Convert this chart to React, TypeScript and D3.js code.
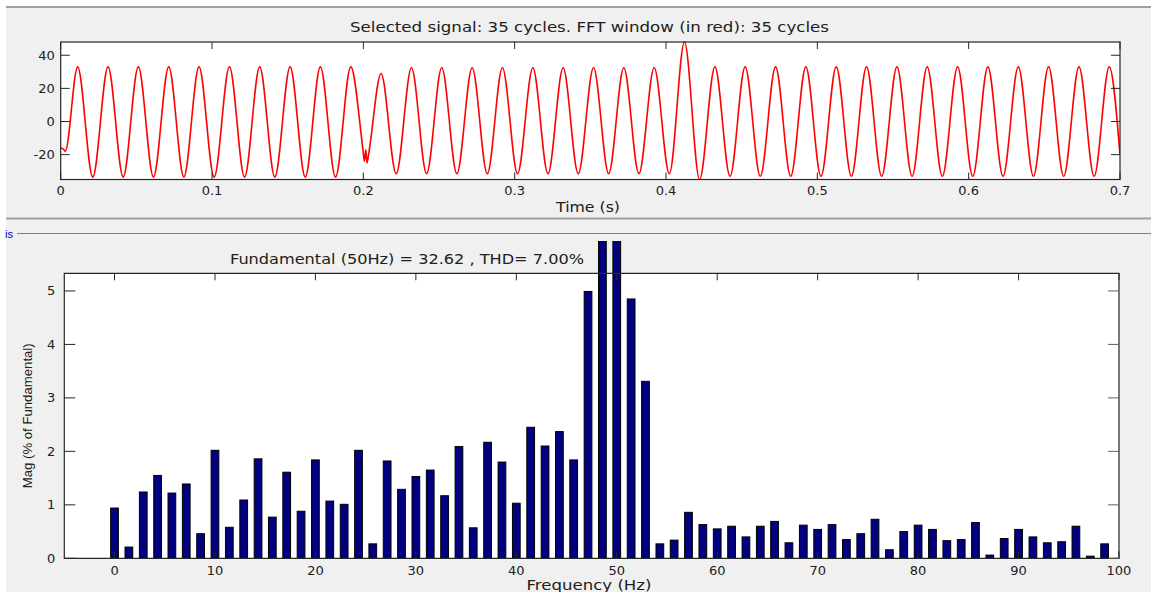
import React from 'react';
import * as d3 from 'd3';

// tick labels
const timeTicks = [0, 0.1, 0.2, 0.3, 0.4, 0.5, 0.6, 0.7];
const signalTicks = [-20, 0, 20, 40];
const freqTicks = [0, 10, 20, 30, 40, 50, 60, 70, 80, 90, 100];
const magTicks = [0, 1, 2, 3, 4, 5];

// waveform turning points
const startTimes = [0, 0.0017, 0.003];
const startValues = [-16, -16.5, -18];
const peakTimes = [
  0.0112, 0.0313, 0.0513, 0.0714, 0.0914, 0.1115, 0.1315, 0.1516, 0.1716, 0.1917,
  0.2117, 0.2318, 0.2518, 0.2719, 0.2919, 0.312, 0.332, 0.3521, 0.3721, 0.3922,
  0.4122, 0.4323, 0.4523, 0.4724, 0.4924, 0.5125, 0.5325, 0.5526, 0.5726, 0.5927,
  0.6127, 0.6328, 0.6528, 0.6729, 0.6929,
];
const peakValues = [
  33, 33, 33, 33, 33, 33, 33, 33, 33, 33,
  29, 32.5, 32.5, 32.5, 32.5, 32.5, 32.5, 32.5, 32.5, 32.5,
  48, 33, 33, 33, 33, 33, 33, 33, 33, 33,
  33, 33, 33, 33, 33,
];
const troughTimes = [
  0.0212, 0.0413, 0.0613, 0.0814, 0.1014, 0.1215, 0.1415, 0.1616, 0.1816,
  0.2217, 0.2418, 0.2618, 0.2819, 0.3019, 0.322, 0.342, 0.3621, 0.3821, 0.4022,
  0.4222, 0.4423, 0.4623, 0.4824, 0.5024, 0.5225, 0.5425, 0.5626, 0.5826, 0.6027,
  0.6227, 0.6428, 0.6628, 0.6829,
];
const troughValues = [
  -33.5, -33.5, -33.5, -33.5, -33.5, -33.5, -33.5, -33.5, -33.5,
  -31.5, -31.5, -31.5, -31.5, -31.5, -31.5, -31.5, -31.5, -31.5, -31.5,
  -35, -33, -33, -33, -33, -33, -33, -33, -33, -33,
  -33, -33, -33, -33,
];
// the disturbed trough near 0.2 s
const glitchTimes = [0.1996, 0.2007, 0.2016, 0.2024, 0.2036];
const glitchValues = [-16, -24, -17, -25, -19];
const endTimes = [0.7];
const endValues = [-20];

// FFT bins (Hz) and magnitudes (% of fundamental)
const freqs = [
  0, 1.43, 2.86, 4.29, 5.71, 7.14, 8.57, 10,
  11.43, 12.86, 14.29, 15.71, 17.14, 18.57, 20,
  21.43, 22.86, 24.29, 25.71, 27.14, 28.57, 30,
  31.43, 32.86, 34.29, 35.71, 37.14, 38.57, 40,
  41.43, 42.86, 44.29, 45.71, 47.14, 48.57, 50,
  51.43, 52.86, 54.29, 55.71, 57.14, 58.57, 60,
  61.43, 62.86, 64.29, 65.71, 67.14, 68.57, 70,
  71.43, 72.86, 74.29, 75.71, 77.14, 78.57, 80,
  81.43, 82.86, 84.29, 85.71, 87.14, 88.57, 90,
  91.43, 92.86, 94.29, 95.71, 97.14, 98.57,
];
const mags = [
  0.94, 0.21, 1.24, 1.55, 1.22, 1.39, 0.46, 2.02,
  0.58, 1.09, 1.86, 0.77, 1.61, 0.88, 1.84,
  1.07, 1.01, 2.02, 0.27, 1.82, 1.29, 1.53,
  1.65, 1.17, 2.09, 0.57, 2.17, 1.8, 1.03,
  2.45, 2.1, 2.37, 1.84, 4.99, 6.5, 100,
  4.85, 3.31, 0.27, 0.34, 0.86, 0.63, 0.55,
  0.6, 0.4, 0.6, 0.69, 0.29, 0.62, 0.54,
  0.63, 0.35, 0.46, 0.73, 0.16, 0.5, 0.62,
  0.54, 0.33, 0.35, 0.67, 0.06, 0.37, 0.54,
  0.4, 0.29, 0.31, 0.6, 0.04, 0.27,
];

const font = '"DejaVu Sans", "Liberation Sans", Arial, sans-serif';
const narrowFont = '"Liberation Sans", Arial, sans-serif';
const axisColor = '#262626';
const textColor = '#202020';

const App = () => {
  // top plot
  const top = { left: 60.7, right: 1120, top: 42, bottom: 179.5 };
  const x1 = d3.scaleLinear().domain([0, 0.7]).range([top.left, top.right]);
  const y1 = d3.scaleLinear().domain([-35, 48]).range([top.bottom, top.top]);

  const pts: [number, number][] = [];
  const add = (ts: number[], vs: number[]) => ts.forEach((t, i) => pts.push([t, vs[i]]));
  add(startTimes, startValues);
  add(peakTimes, peakValues);
  add(troughTimes, troughValues);
  add(glitchTimes, glitchValues);
  add(endTimes, endValues);
  pts.sort((a, b) => a[0] - b[0]);

  const line = d3
    .line<[number, number]>()
    .x((d) => x1(d[0]))
    .y((d) => y1(d[1]))
    .curve(d3.curveMonotoneX);

  // bottom plot
  const bot = { left: 64.3, right: 1119, top: 273.3, bottom: 558.3 };
  const x2 = d3.scaleLinear().domain([-5, 100]).range([bot.left, bot.right]);
  const y2 = d3.scaleLinear().domain([0, 5.33]).range([bot.bottom, bot.top]);
  const halfW = 0.385;

  return (
    <svg width={1151} height={592} style={{ position: 'absolute', left: 0, top: 0 }} fontFamily={font}>
      <defs>
        <clipPath id="sigClip">
          <rect x={top.left} y={top.top - 1} width={top.right - top.left} height={top.bottom - top.top + 1} />
        </clipPath>
        <clipPath id="barClip">
          <rect x={bot.left} y={241} width={bot.right - bot.left} height={bot.bottom - 241} />
        </clipPath>
      </defs>
      <rect width={1151} height={592} fill="#ffffff" />
      <rect x={6} y={7} width={1145} height={585} fill="#f0f0f0" />
      <line x1={6} x2={1151} y1={7} y2={7} stroke="#a0a0a0" strokeWidth={2} />
      <line x1={6} x2={1151} y1={218.5} y2={218.5} stroke="#a0a0a0" strokeWidth={2} />
      <line x1={17} x2={1151} y1={233.5} y2={233.5} stroke="#808080" strokeWidth={1} />
      <text x={5} y={237.5} fontSize={11} fontFamily={narrowFont} fill="#0000c8">is</text>

      {/* top: selected signal */}
      <text x={589.5} y={31.5} fontSize={14} textAnchor="middle" fill={textColor} textLength={479} lengthAdjust="spacingAndGlyphs">
        Selected signal: 35 cycles. FFT window (in red): 35 cycles
      </text>
      <rect x={top.left} y={top.top} width={top.right - top.left} height={top.bottom - top.top} fill="#ffffff" />
      <path d={line(pts) ?? ''} fill="none" stroke="#ff0000" strokeWidth={1.6} clipPath="url(#sigClip)" />
      <rect
        x={top.left}
        y={top.top}
        width={top.right - top.left}
        height={top.bottom - top.top}
        fill="none"
        stroke={axisColor}
        strokeWidth={1.2}
      />
      {timeTicks.map((t) => (
        <g key={'t' + t}>
          <line x1={x1(t)} x2={x1(t)} y1={top.bottom} y2={top.bottom - 7} stroke={axisColor} />
          <line x1={x1(t)} x2={x1(t)} y1={top.top} y2={top.top + 7} stroke={axisColor} />
          <text x={x1(t)} y={195} fontSize={13} textAnchor="middle" fill={textColor}>
            {t}
          </text>
        </g>
      ))}
      {signalTicks.map((v) => (
        <g key={'s' + v}>
          <line x1={top.left} x2={top.left + 9} y1={y1(v)} y2={y1(v)} stroke={axisColor} />
          <line x1={top.right} x2={top.right - 9} y1={y1(v)} y2={y1(v)} stroke={axisColor} />
          <text x={top.left - 6} y={y1(v) + 4.5} fontSize={13} textAnchor="end" fill={textColor}>
            {v}
          </text>
        </g>
      ))}
      <text x={588} y={212} fontSize={13.5} textAnchor="middle" fill={textColor} textLength={64} lengthAdjust="spacingAndGlyphs">
        Time (s)
      </text>

      {/* bottom: FFT spectrum */}
      <text x={407} y={264} fontSize={14} textAnchor="middle" fill={textColor} textLength={354} lengthAdjust="spacingAndGlyphs">
        Fundamental (50Hz) = 32.62 , THD= 7.00%
      </text>
      <rect x={bot.left} y={bot.top} width={bot.right - bot.left} height={bot.bottom - bot.top} fill="#ffffff" />
      <g clipPath="url(#barClip)">
        {freqs.map((f, i) => (
          <rect
            key={'b' + i}
            x={x2(f - halfW)}
            y={y2(mags[i])}
            width={x2(f + halfW) - x2(f - halfW)}
            height={y2(0) - y2(mags[i])}
            fill="#000080"
            stroke="#000000"
            strokeWidth={1}
          />
        ))}
      </g>
      <path
        d={`M${bot.left},${bot.top}H${bot.right}V${bot.bottom}H${bot.left}Z`}
        fill="none"
        stroke={axisColor}
        strokeWidth={1.2}
      />
      {freqTicks.map((f) => (
        <g key={'f' + f}>
          <line x1={x2(f)} x2={x2(f)} y1={bot.bottom} y2={bot.bottom - 7} stroke={axisColor} />
          <line x1={x2(f)} x2={x2(f)} y1={bot.top} y2={bot.top + 7} stroke={axisColor} />
          <text x={x2(f)} y={575} fontSize={13} textAnchor="middle" fill={textColor}>
            {f}
          </text>
        </g>
      ))}
      {magTicks.map((v) => (
        <g key={'m' + v}>
          <line x1={bot.left} x2={bot.left + 11} y1={y2(v)} y2={y2(v)} stroke={axisColor} />
          <line x1={bot.right} x2={bot.right - 11} y1={y2(v)} y2={y2(v)} stroke="#606060" />
          <text x={bot.left - 9} y={y2(v) + 4.5} fontSize={13} textAnchor="end" fill={textColor}>
            {v}
          </text>
        </g>
      ))}
      <text
        transform={`translate(32,${(bot.top + bot.bottom) / 2}) rotate(-90)`}
        fontSize={13.5}
        fontFamily={narrowFont}
        textAnchor="middle"
        fill={textColor}
        textLength={145}
        lengthAdjust="spacingAndGlyphs"
      >
        Mag (% of Fundamental)
      </text>
      <text x={589} y={590} fontSize={13.5} textAnchor="middle" fill={textColor} textLength={125} lengthAdjust="spacingAndGlyphs">
        Frequency (Hz)
      </text>
    </svg>
  );
};

export default App;
